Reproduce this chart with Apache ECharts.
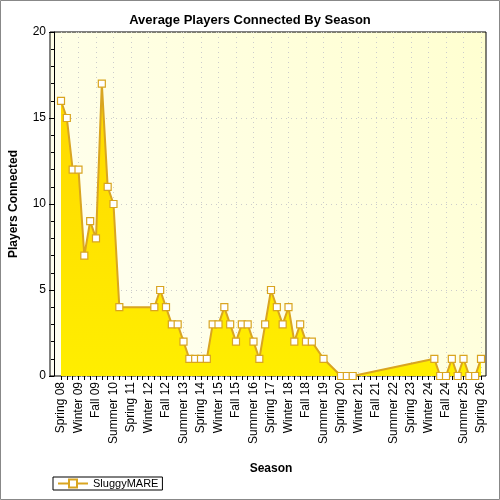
<!DOCTYPE html>
<html><head><meta charset="utf-8">
<script src="https://cdn.jsdelivr.net/npm/echarts@6/dist/echarts.min.js"></script>
<style>html,body{margin:0;padding:0;background:#fff}#c{width:500px;height:500px}</style>
</head><body><div id="c"></div>
<script>
var categories = ["Spring 08","Summer 08","Fall 08","Winter 09","Spring 09","Summer 09","Fall 09","Winter 10","Spring 10","Summer 10","Fall 10","Winter 11","Spring 11","Summer 11","Fall 11","Winter 12","Spring 12","Summer 12","Fall 12","Winter 13","Spring 13","Summer 13","Fall 13","Winter 14","Spring 14","Summer 14","Fall 14","Winter 15","Spring 15","Summer 15","Fall 15","Winter 16","Spring 16","Summer 16","Fall 16","Winter 17","Spring 17","Summer 17","Fall 17","Winter 18","Spring 18","Summer 18","Fall 18","Winter 19","Spring 19","Summer 19","Fall 19","Winter 20","Spring 20","Summer 20","Fall 20","Winter 21","Spring 21","Summer 21","Fall 21","Winter 22","Spring 22","Summer 22","Fall 22","Winter 23","Spring 23","Summer 23","Fall 23","Winter 24","Spring 24","Summer 24","Fall 24","Winter 25","Spring 25","Summer 25","Fall 25","Winter 26","Spring 26"];
var players = [16,15,12,12,7,9,8,17,11,10,4,null,null,null,null,null,4,5,4,3,3,2,1,1,1,1,3,3,4,3,2,3,3,2,1,3,5,4,3,4,2,3,2,2,null,1,null,null,0,0,0,null,null,null,null,null,null,null,null,null,null,null,null,null,1,0,0,1,0,1,0,0,1];
var yTicks = [0,5,10,15,20];
var chart = echarts.init(document.getElementById('c'));
chart.setOption({
  animation:false,
  backgroundColor:'#fff',
  title:{text:'Average Players Connected By Season',left:'center',top:9,textStyle:{fontFamily:'Liberation Sans',fontSize:13,fontWeight:'bold',color:'#000'}},
  graphic:[
    {type:'rect',z:-10,shape:{x:0.5,y:0.5,width:499,height:499},style:{fill:'#fff',stroke:'#888',lineWidth:1}},
    {type:'rect',z:-5,shape:{x:50,y:32,width:436,height:344},style:{fill:new echarts.graphic.LinearGradient(1,0,0,1,[{offset:0,color:'#FFFFD0'},{offset:1,color:'#FFFFF4'}]),stroke:'#000',lineWidth:1}}
  ],
  legend:{left:53,top:477,itemWidth:30,itemHeight:10,padding:[1,4],borderColor:'#000',borderWidth:1,textStyle:{fontFamily:'Liberation Sans',fontSize:11,color:'#000'},data:['SluggyMARE']},
  grid:{left:57,right:19,top:32,bottom:124,containLabel:false},
  xAxis:{type:'category',data:categories,boundaryGap:false,name:'Season',nameLocation:'middle',nameGap:87,
    nameTextStyle:{fontFamily:'Liberation Sans',fontSize:12,fontWeight:'bold',color:'#000'},
    axisLine:{show:false},
    axisTick:{show:true,interval:0,length:4,lineStyle:{color:'#000'}},
    axisLabel:{interval:2,rotate:90,fontFamily:'Liberation Sans',fontSize:12,color:'#000',margin:6},
    splitLine:{show:true,interval:2,lineStyle:{color:'#ccc',type:[1,4]}}},
  yAxis:{type:'value',min:0,max:20,interval:5,offset:7,name:'Players Connected',nameLocation:'middle',nameGap:34,
    nameTextStyle:{fontFamily:'Liberation Sans',fontSize:12,fontWeight:'bold',color:'#000'},
    axisLine:{show:true,lineStyle:{color:'#000'}},
    axisTick:{show:true,length:5,lineStyle:{color:'#000'}},
    minorTick:{show:true,splitNumber:5,length:3,lineStyle:{color:'#000'}},
    axisLabel:{fontFamily:'Liberation Sans',fontSize:12,color:'#000',formatter:function(v){return yTicks.indexOf(v)>=0?String(v):'';}},
    splitLine:{show:true,lineStyle:{color:'#ccc',type:[1,4]}}},
  series:[{name:'SluggyMARE',type:'line',data:players,connectNulls:true,showAllSymbol:true,symbol:'rect',symbolSize:7,
    itemStyle:{color:'#fff',borderColor:'#D9A520',borderWidth:1.2},
    lineStyle:{color:'#D9A520',width:2},
    areaStyle:{opacity:1,color:new echarts.graphic.LinearGradient(0,0,0,1,[{offset:0,color:'#FFD800'},{offset:1,color:'#FFEE00'}])}}]
});
</script></body></html>
